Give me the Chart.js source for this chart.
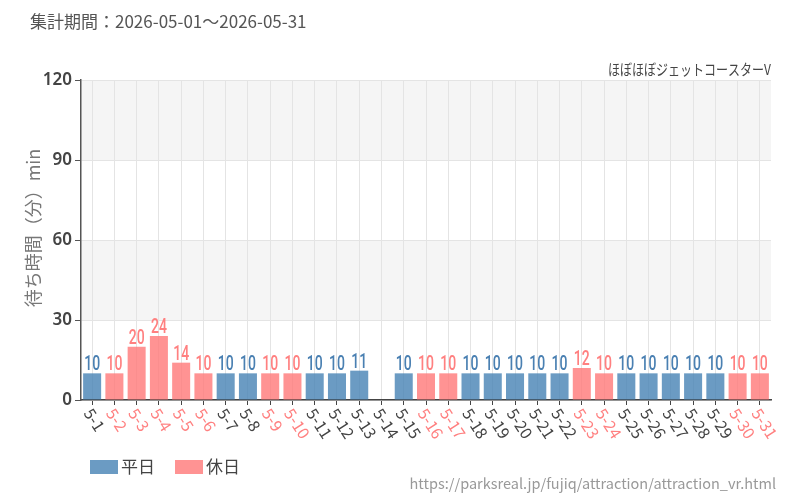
<!DOCTYPE html>
<html>
<head>
<meta charset="utf-8">
<script src="https://cdn.jsdelivr.net/npm/chart.js@4.4.1/dist/chart.umd.min.js"></script>
<style>
  html, body { margin: 0; padding: 0; background: #fff; }
  #wrap { width: 800px; height: 500px; }
</style>
</head>
<body>
<div id="wrap"><canvas id="waitChart" width="800" height="500"></canvas></div>
<script>
const days = ["5-1","5-2","5-3","5-4","5-5","5-6","5-7","5-8","5-9","5-10","5-11","5-12","5-13","5-14","5-15","5-16","5-17","5-18","5-19","5-20","5-21","5-22","5-23","5-24","5-25","5-26","5-27","5-28","5-29","5-30","5-31"];
// true = 休日
const holiday = [false,true,true,true,true,true,false,false,true,true,false,false,false,false,false,true,true,false,false,false,false,false,true,true,false,false,false,false,false,true,true];
const waitTimes = [10,10,20,24,14,10,10,10,10,10,10,10,11,null,10,10,10,10,10,10,10,10,12,10,10,10,10,10,10,10,10];
const yTicks = [0, 30, 60, 90, 120];

const BLUE = "rgba(70,130,180,0.8)";
const PINK = "rgba(255,120,120,0.8)";
const BLUE_TXT = "#4a80b2";
const PINK_TXT = "#ff8080";
const FONT = "'Noto Sans CJK JP', 'Noto Sans', sans-serif";

const weekdayData = waitTimes.map((v, i) => holiday[i] ? null : v);
const holidayData = waitTimes.map((v, i) => holiday[i] ? v : null);

// background bands + custom texts
const decoPlugin = {
  id: "deco",
  beforeDraw(chart) {
    const { ctx, chartArea: a, scales: { y } } = chart;
    ctx.save();
    ctx.fillStyle = "#f5f5f5";
    [[90, 120], [30, 60]].forEach(([lo, hi]) => {
      ctx.fillRect(a.left, y.getPixelForValue(hi), a.right - a.left, y.getPixelForValue(lo) - y.getPixelForValue(hi));
    });
    ctx.restore();
  },
  afterDraw(chart) {
    const { ctx, chartArea: a, scales: { x } } = chart;
    ctx.save();
    // header
    ctx.fillStyle = "#555";
    ctx.font = "17px " + FONT;
    ctx.textBaseline = "middle";
    ctx.textAlign = "left";
    ctx.fillText("集計期間：2026-05-01～2026-05-31", 30, 22);

    ctx.save();
    ctx.translate(a.right, 69);
    ctx.scale(0.8, 1);
    ctx.fillStyle = "#444";
    ctx.font = "15px " + FONT;
    ctx.textAlign = "right";
    ctx.fillText("ほぼほぼジェットコースターV", 0, 0);
    ctx.restore();

    // y title
    ctx.save();
    ctx.translate(33, 228);
    ctx.rotate(-Math.PI / 2);
    ctx.textAlign = "center";
    ctx.fillStyle = "#777";
    ctx.font = "18px " + FONT;
    ctx.fillText("待ち時間（分）min", 0, 0);
    ctx.restore();

    // x labels, slanted down-right
    ctx.font = "16px " + FONT;
    ctx.textAlign = "left";
    ctx.textBaseline = "middle";
    days.forEach((d, i) => {
      const px = x.getPixelForValue(i);
      ctx.save();
      ctx.translate(px - 4, a.bottom + 10);
      ctx.rotate(57 * Math.PI / 180);
      ctx.fillStyle = holiday[i] ? PINK_TXT : "#444";
      ctx.fillText(d, 0, 0);
      ctx.restore();
    });

    // value labels
    chart.data.datasets.forEach((ds, di) => {
      const meta = chart.getDatasetMeta(di);
      meta.data.forEach((bar, i) => {
        const v = ds.data[i];
        if (v == null) return;
        ctx.save();
        ctx.translate(bar.x, bar.y - 3);
        ctx.scale(0.7, 1);
        ctx.font = "500 20px Roboto, sans-serif";
        ctx.textAlign = "center";
        ctx.textBaseline = "alphabetic";
        ctx.fillStyle = di === 0 ? BLUE_TXT : PINK_TXT;
        ctx.fillText(String(v), 0, 0);
        ctx.restore();
      });
    });

    // legend
    ctx.font = "17px " + FONT;
    ctx.textAlign = "left";
    ctx.textBaseline = "middle";
    ctx.fillStyle = BLUE;
    ctx.fillRect(90, 460, 28, 14);
    ctx.fillStyle = "#444";
    ctx.fillText("平日", 121, 467);
    ctx.fillStyle = PINK;
    ctx.fillRect(175, 460, 28, 14);
    ctx.fillStyle = "#444";
    ctx.fillText("休日", 206, 467);

    // source url
    ctx.fillStyle = "#999";
    ctx.font = "14.5px " + FONT;
    ctx.textAlign = "right";
    ctx.fillText("https://parksreal.jp/fujiq/attraction/attraction_vr.html", 776, 483);
    ctx.restore();
  }
};

const ctx = document.getElementById("waitChart").getContext("2d");
const chart = new Chart(ctx, {
  type: "bar",
  data: {
    labels: days,
    datasets: [
      { label: "平日", data: weekdayData, backgroundColor: BLUE, borderWidth: 0 },
      { label: "休日", data: holidayData, backgroundColor: PINK, borderWidth: 0 }
    ]
  },
  options: {
    responsive: false,
    animation: false,
    layout: { padding: { left: 0, right: 29, top: 80, bottom: 0 } },
    plugins: { legend: { display: false }, tooltip: { enabled: false } },
    datasets: { bar: { barPercentage: 0.9, categoryPercentage: 0.9 } },
    scales: {
      x: {
        stacked: true,
        afterFit(s) { s.height = 100; },
        grid: { offset: false, color: "#e4e4e4", tickColor: "#444", tickLength: 5, drawOnChartArea: true },
        border: { color: "#444", width: 1.5 },
        ticks: { color: "transparent", maxRotation: 0, autoSkip: false }
      },
      y: {
        stacked: true,
        min: 0,
        max: 120,
        afterFit(s) { s.width = 81; },
        afterBuildTicks(s) { s.ticks = yTicks.map(v => ({ value: v })); },
        grid: { color: "#e4e4e4", tickColor: "#555", tickLength: 6 },
        border: { color: "#555", width: 1.5 },
        ticks: { color: "#444", font: { size: 17, weight: "600", family: "'Noto Sans', sans-serif" }, padding: 3 }
      }
    }
  },
  plugins: [decoPlugin]
});
</script>
</body>
</html>
